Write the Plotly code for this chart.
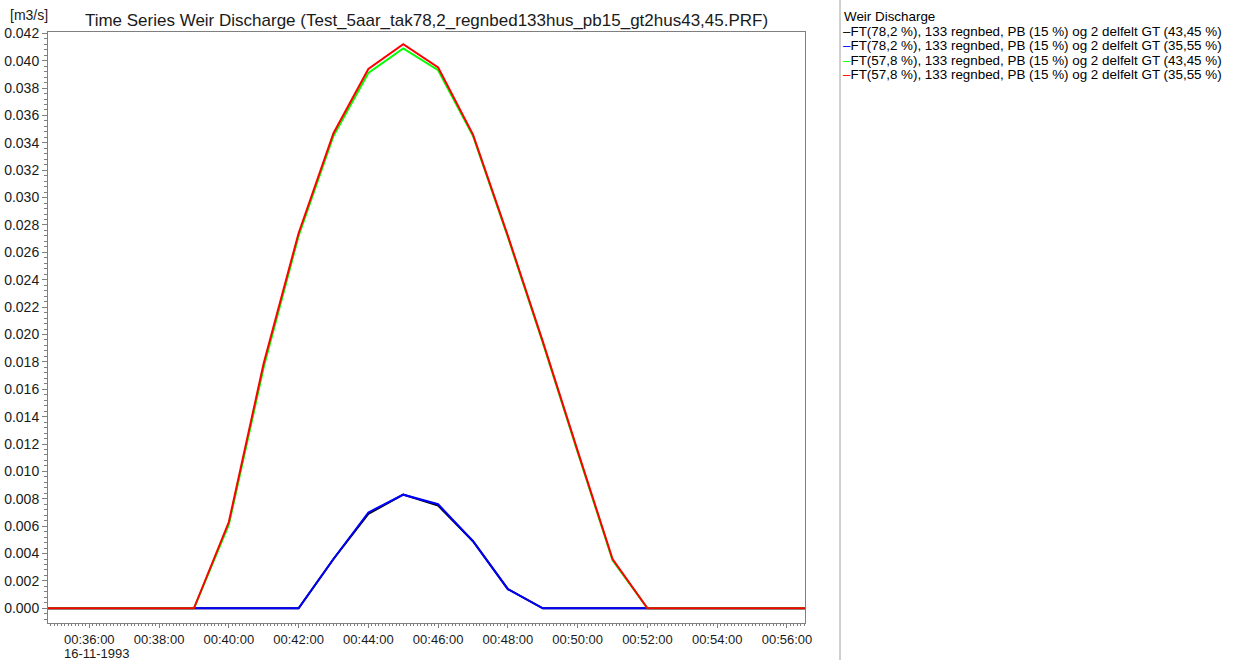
import plotly.graph_objects as go

# ---- data ----
minutes = list(range(34, 58))
times = [f"1993-11-16 00:{m:02d}:00" for m in minutes]

black = [0, 0, 0, 0, 0, 0, 0, 0, 0, 0.0036, 0.0069, 0.0083, 0.0075, 0.0049, 0.0014, 0,
         0, 0, 0, 0, 0, 0, 0, 0]
blue = [0, 0, 0, 0, 0, 0, 0, 0, 0, 0.0036, 0.0070, 0.0083, 0.0076, 0.0049, 0.0014, 0,
        0, 0, 0, 0, 0, 0, 0, 0]
green = [0, 0, 0, 0, 0, 0, 0.0061, 0.0176, 0.0272, 0.0345, 0.0391, 0.0409, 0.0393, 0.0345,
         0.0271, 0.0194, 0.0114, 0.0035, 0, 0, 0, 0, 0, 0]
red = [0, 0, 0, 0, 0, 0, 0.0063, 0.0179, 0.0274, 0.0347, 0.0394, 0.0412, 0.0395, 0.0346,
       0.0272, 0.0195, 0.0115, 0.0036, 0, 0, 0, 0, 0, 0]

series_names = [
    "FT(78,2 %), 133 regnbed, PB (15 %) og 2 delfelt GT (43,45 %)",
    "FT(78,2 %), 133 regnbed, PB (15 %) og 2 delfelt GT (35,55 %)",
    "FT(57,8 %), 133 regnbed, PB (15 %) og 2 delfelt GT (43,45 %)",
    "FT(57,8 %), 133 regnbed, PB (15 %) og 2 delfelt GT (35,55 %)",
]
series_values = [black, blue, green, red]
series_colors = ["#000000", "#0000ff", "#00ff00", "#ff0000"]

tick_minutes = list(range(36, 57, 2))
tick_vals = [f"1993-11-16 00:{m:02d}:00" for m in tick_minutes]
tick_text = [f"00:{m:02d}:00" for m in tick_minutes]

title_text = "Time Series Weir Discharge (Test_5aar_tak78,2_regnbed133hus_pb15_gt2hus43,45.PRF)"
unit_text = "[m3/s]"
date_text = "16-11-1993"
legend_title = "Weir Discharge"

# ---- figure ----
W, H = 1237, 660
L, R, T, B = 48, 805, 32, 623
pw, ph = R - L, B - T

def px_x(x):
    return (x - L) / pw

def px_y(y):
    return (B - y) / ph

FONT = "Liberation Sans, Arial, sans-serif"
TXT = "#1a1a1a"

fig = go.Figure()
for name, vals, col in zip(series_names, series_values, series_colors):
    fig.add_trace(go.Scatter(x=times, y=vals, mode="lines", name=name,
                             line=dict(color=col, width=2), showlegend=False))

axis_col = "#7f7f7f"
fig.update_layout(
    width=W, height=H,
    margin=dict(l=L, r=W - R, t=T, b=H - B, pad=0, autoexpand=False),
    paper_bgcolor="white", plot_bgcolor="white",
    font=dict(family=FONT, size=13, color=TXT),
    title=dict(text=title_text, x=0.5, xref="paper", xanchor="center",
               y=1 - 20 / H, yref="container", yanchor="middle",
               font=dict(family=FONT, size=17, color=TXT)),
    xaxis=dict(
        type="date", automargin=False,
        range=["1993-11-16 00:34:49", "1993-11-16 00:56:31"],
        tickvals=tick_vals, ticktext=tick_text,
        ticks="outside", ticklen=4, tickcolor=axis_col, tickwidth=1,
        minor=dict(ticks="outside", ticklen=2, dtick=6000, tickcolor=axis_col, showgrid=False),
        showline=True, linecolor=axis_col, linewidth=1, mirror=True,
        showgrid=False, zeroline=False,
        tickfont=dict(size=13, family=FONT, color=TXT),
    ),
    yaxis=dict(
        automargin=False,
        range=[-0.001074, 0.042095],
        tick0=0, dtick=0.002, tickformat=".3f",
        ticks="outside", ticklen=5, tickcolor=axis_col, tickwidth=1,
        minor=dict(ticks="outside", ticklen=3, dtick=0.0004, tickcolor=axis_col, showgrid=False),
        showline=True, linecolor=axis_col, linewidth=1, mirror=True,
        showgrid=False, zeroline=False,
        tickfont=dict(size=14, family=FONT, color=TXT),
    ),
)

annotations = [
    dict(text=unit_text, x=px_x(29), y=px_y(15), xref="paper", yref="paper",
         xanchor="center", yanchor="middle", showarrow=False,
         font=dict(size=14, family=FONT, color=TXT)),
    dict(text=date_text, x=px_x(62), y=px_y(653), xref="paper", yref="paper",
         xanchor="left", yanchor="middle", showarrow=False,
         font=dict(size=13, family=FONT, color=TXT)),
    dict(text=legend_title, x=px_x(842), y=px_y(16), xref="paper", yref="paper",
         xanchor="left", yanchor="middle", showarrow=False,
         font=dict(size=13.4, family=FONT, color="#000000")),
]
row_y = [31, 45.5, 60, 74.5]
for name, col, yy in zip(series_names, series_colors, row_y):
    annotations.append(dict(
        text=f'<span style="color:{col}">\u2013</span>{name}',
        x=px_x(841), y=px_y(yy), xref="paper", yref="paper",
        xanchor="left", yanchor="middle", showarrow=False,
        font=dict(size=13.4, family=FONT, color="#000000")))
fig.update_layout(annotations=annotations)

fig.add_shape(type="line", xref="paper", yref="paper",
              x0=px_x(840), x1=px_x(840), y0=px_y(0), y1=px_y(660),
              line=dict(color="#a0a0a0", width=1))

fig.write_html("out.html")
